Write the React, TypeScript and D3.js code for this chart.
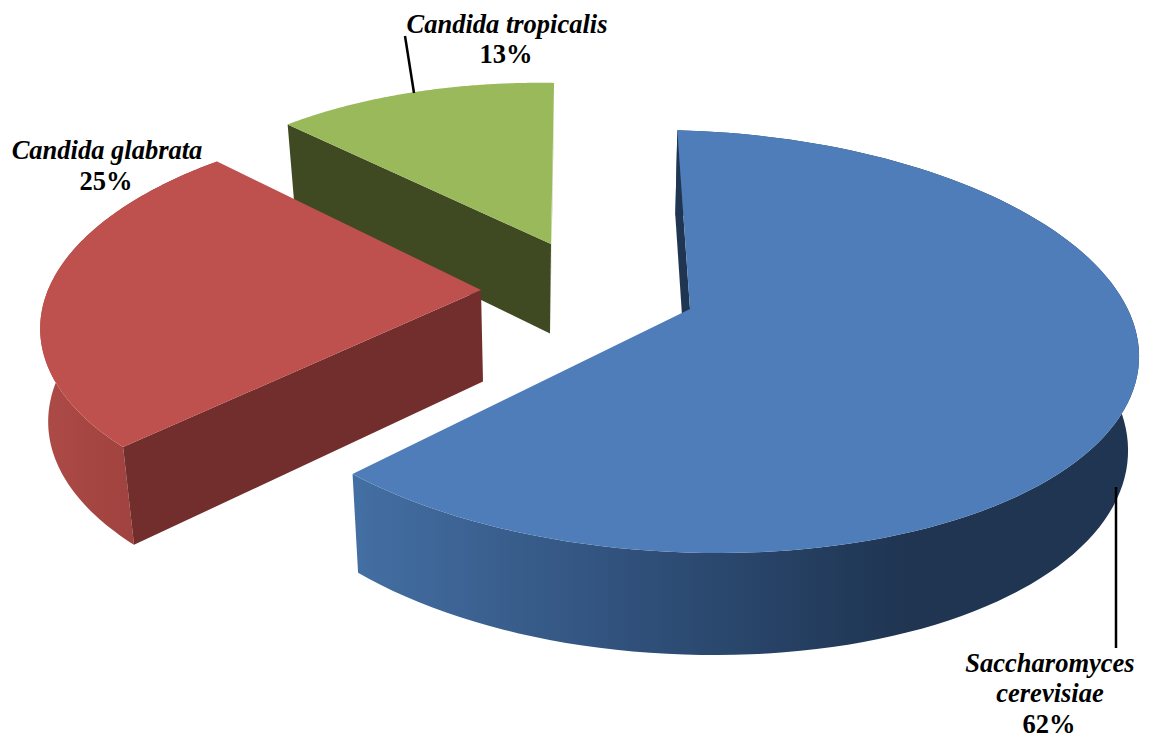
import React from "react";
import * as d3 from "d3";

// Species shares, in percent
const species = ["Saccharomyces cerevisiae", "Candida glabrata", "Candida tropicalis"];
const shares = [62, 25, 13];

const WIDTH = 1150;
const HEIGHT = 742;
const FIRST_ANGLE = (2.3 * Math.PI) / 180;

// Foreshortening of the disc towards the viewer
const NEAR_GAIN = 0.1537;

// How each exploded slice sits on the page: tip of the wedge and plane transform
type Placement = {
  tipX: number; tipY: number; c: number; s: number; a: number; p: number;
  top: string; cut: string; wallStops: [number, string][]; wallFrom: number; wallTo: number;
};
const placements: Placement[] = [
  {
    tipX: 690, tipY: 309, c: 447, s: 32.6, a: 206.5, p: -0.0213,
    top: "#4E7DB9", cut: "#1F3552",
    wallStops: [[0, "#446FA3"], [0.45, "#2F4F79"], [0.85, "#1F3552"], [1, "#1F3552"]],
    wallFrom: 354, wallTo: 1000,
  },
  {
    tipX: 481, tipY: 290, c: 433, s: -15, a: 200, p: 0,
    top: "#BE504D", cut: "#722E2D",
    wallStops: [[0, "#AC4A46"], [1, "#A0423F"]],
    wallFrom: 45, wallTo: 135,
  },
  {
    tipX: 551, tipY: 244, c: 404, s: 12.7, a: 186, p: 0,
    top: "#9AB95B", cut: "#3F4A23",
    wallStops: [[0, "#8AA650"], [1, "#8AA650"]],
    wallFrom: 290, wallTo: 556,
  },
];

// Extrusion of the pie: vertical edges lean inwards a little and grow towards the viewer
const leanScale = d3.scaleLinear().domain([40, 125, 354, 481, 551, 677, 1138]).range([8, 11, 5.5, 2, -1, -2, -11]);
const depthScale = d3.scaleLinear().domain([130, 553]).range([85, 102]);

type Pt = [number, number];

const project = (pl: Placement, theta: number): Pt => {
  const u = Math.sin(theta);
  const v = -Math.cos(theta);
  const d = 1 - NEAR_GAIN * v - pl.p * u;
  return [pl.tipX + (pl.c * u + pl.s * v) / d, pl.tipY + (pl.a * v) / d];
};

const drop = ([x, y]: Pt): Pt => [x + leanScale(x), y + depthScale(y)];

const line = d3.line<Pt>();
const closed = (pts: Pt[]) => `${line(pts)}Z`;

const arcs = d3
  .pie<number>()
  .sort(null)
  .startAngle(FIRST_ANGLE)
  .endAngle(FIRST_ANGLE + 2 * Math.PI)(shares);

const sliceShapes = arcs.map((arc, i) => {
  const pl = placements[i];
  const steps = d3.range(0, 121).map((k) => arc.startAngle + ((arc.endAngle - arc.startAngle) * k) / 120);
  const rim = steps.map((t) => project(pl, t));
  const tip: Pt = [pl.tipX, pl.tipY];
  const first = rim[0];
  const last = rim[rim.length - 1];
  // The small slice at the back shows only a thin sliver of its closing face instead of its rim
  const wall =
    species[i] === "Candida tropicalis"
      ? closed([last, drop(last), drop(tip)])
      : closed([...rim, ...rim.map(drop).reverse()]);
  return {
    key: species[i],
    pl,
    top: closed([tip, ...rim]),
    wall,
    cut: closed([tip, first, drop(first), drop(tip)]),
  };
});

// Order of painting, back to front
const paintOrder = [2, 1, 0];

const labelFont = "'Liberation Serif', 'Times New Roman', serif";

type LabelLine = { text: string; x: number; y: number; italic: boolean };
const labelLines: LabelLine[] = [
  { text: "Candida tropicalis", x: 507, y: 33, italic: true },
  { text: "13%", x: 506, y: 63, italic: false },
  { text: "Candida glabrata", x: 107, y: 159, italic: true },
  { text: "25%", x: 106, y: 190, italic: false },
  { text: "Saccharomyces", x: 1050, y: 672, italic: true },
  { text: "cerevisiae", x: 1050, y: 702, italic: true },
  { text: "62%", x: 1049, y: 733, italic: false },
];

const leaders: [Pt, Pt][] = [
  [[405, 36], [414, 93]],
  [[1116, 487], [1116, 648]],
];

export default function App() {
  return (
    <svg
      width={WIDTH}
      height={HEIGHT}
      viewBox={`0 0 ${WIDTH} ${HEIGHT}`}
      style={{ position: "absolute", left: 0, top: 0, display: "block", background: "#fff" }}
    >
      <defs>
        {sliceShapes.map((s, i) => (
          <linearGradient
            key={s.key}
            id={`wall-${i}`}
            gradientUnits="userSpaceOnUse"
            x1={s.pl.wallFrom}
            x2={s.pl.wallTo}
            y1={0}
            y2={0}
          >
            {s.pl.wallStops.map(([o, c]) => (
              <stop key={o} offset={o} stopColor={c} />
            ))}
          </linearGradient>
        ))}
      </defs>
      {paintOrder.map((i) => {
        const s = sliceShapes[i];
        return (
          <g key={s.key}>
            <path d={s.wall} fill={`url(#wall-${i})`} />
            <path d={s.cut} fill={s.pl.cut} />
            <path d={s.top} fill={s.pl.top} />
          </g>
        );
      })}
      {leaders.map((l, i) => (
        <path key={i} d={line(l) ?? ""} stroke="#000" strokeWidth={2.5} fill="none" />
      ))}
      {labelLines.map((l) => (
        <text
          key={l.text}
          x={l.x}
          y={l.y}
          textAnchor="middle"
          fontFamily={labelFont}
          fontSize={26.5}
          fontWeight="bold"
          fontStyle={l.italic ? "italic" : "normal"}
          fill="#000"
        >
          {l.text}
        </text>
      ))}
    </svg>
  );
}
